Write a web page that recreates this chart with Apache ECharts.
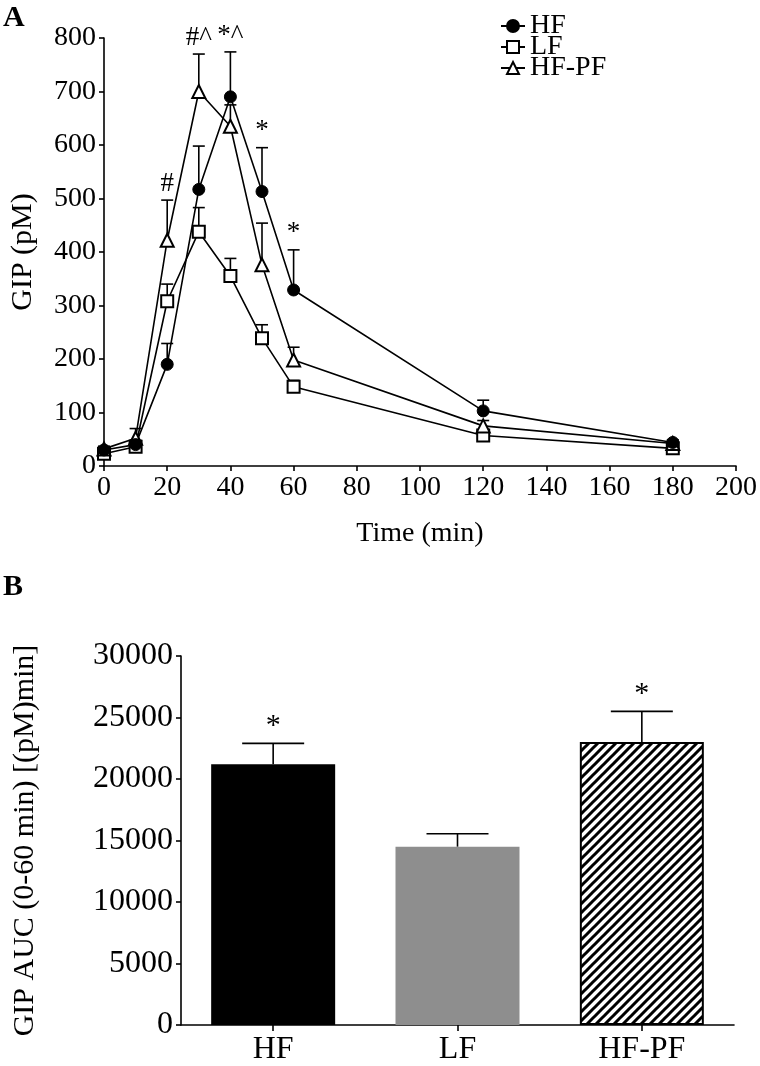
<!DOCTYPE html>
<html><head><meta charset="utf-8">
<script src="https://cdn.jsdelivr.net/npm/echarts@6/dist/echarts.min.js"></script>
<style>html,body{margin:0;padding:0;background:#fff}#c{width:760px;height:1066px}</style>
</head><body><div id="c"></div>
<script>
// ---- Panel A data: GIP (pM) vs time (min) ----
const times  = [0, 10, 20, 30, 40, 50, 60, 120, 180];
const hfMean = [30, 40, 190, 517, 690, 513, 329, 103, 44];
const hfSem  = [5, 8, 39, 81, 84, 82, 75, 20, 5];
const lfMean = [23, 36, 308, 438, 355, 239, 148, 57, 33];
const lfSem  = [4, 5, 32, 45, 33, 25, 12, 8, 4];
const pfMean = [32, 52, 422, 700, 635, 376, 198, 75, 42];
const pfSem  = [5, 18, 75, 70, 40, 78, 24, 10, 4];
const annotTimes = [20, 30, 40, 50, 60];
const annotTexts = ['#', '#^', '*^', '*', '*'];

// ---- Panel B data: GIP AUC (0-60 min) ----
const aucGroups = ['HF', 'LF', 'HF-PF'];
const aucMean = [21200, 14500, 23000];
const aucSem  = [1700, 1050, 2500];
const aucAnnot = ['*', '', '*'];

const FONT = "'Liberation Serif','Times New Roman',serif";

// hatch pattern for HF-PF bar
const pc = document.createElement('canvas');
const T = 9; pc.width = T; pc.height = T;
const g = pc.getContext('2d');
g.fillStyle = '#fff'; g.fillRect(0, 0, T, T);
g.strokeStyle = '#000'; g.lineWidth = 3; g.beginPath();
g.moveTo(-2, T + 2); g.lineTo(T + 2, -2);
g.moveTo(-2, 2); g.lineTo(2, -2);
g.moveTo(T - 2, T + 2); g.lineTo(T + 2, T - 2);
g.stroke();

const series = [];
function pairs(xs, ys) { return xs.map((x, i) => [x, ys[i]]); }
function errData(xs, m, s) { return xs.map((x, i) => [x, m[i], s[i]]); }

function errRender(halfW) {
  return function (params, api) {
    const x = api.value(0), m = api.value(1), s = api.value(2);
    const p0 = api.coord([x, m]), p1 = api.coord([x, m + s]);
    const st = { stroke: '#000', lineWidth: 1.6 };
    return { type: 'group', children: [
      { type: 'line', shape: { x1: p0[0], y1: p0[1], x2: p1[0], y2: p1[1] }, style: st },
      { type: 'line', shape: { x1: p1[0] - halfW, y1: p1[1], x2: p1[0] + halfW, y2: p1[1] }, style: st }
    ]};
  };
}
const labelsFor = { annA: annotTexts, annB: aucAnnot };
function textRender(gap, size) {
  return function (params, api) {
    const p = api.coord([api.value(0), api.value(1)]);
    return { type: 'text', x: p[0], y: p[1] - gap,
      style: { text: labelsFor[params.seriesName][params.dataIndex],
        font: size + 'px ' + FONT, fill: '#000', textAlign: 'center', textVerticalAlign: 'bottom' } };
  };
}

// error bars (panel A)
[[hfMean, hfSem], [lfMean, lfSem], [pfMean, pfSem]].forEach(([m, s]) => {
  series.push({ type: 'custom', xAxisIndex: 0, yAxisIndex: 0, z: 1, silent: true,
    renderItem: errRender(6), data: errData(times, m, s) });
});
// lines (drawn LF, HF-PF, HF so HF on top)
series.push({ name: 'LF', type: 'line', xAxisIndex: 0, yAxisIndex: 0, z: 3, data: pairs(times, lfMean),
  symbol: 'rect', symbolSize: 12, lineStyle: { color: '#000', width: 1.6 },
  itemStyle: { color: '#fff', borderColor: '#000', borderWidth: 2 } });
series.push({ name: 'HF-PF', type: 'line', xAxisIndex: 0, yAxisIndex: 0, z: 3, data: pairs(times, pfMean),
  symbol: 'triangle', symbolSize: 13, lineStyle: { color: '#000', width: 1.6 },
  itemStyle: { color: '#fff', borderColor: '#000', borderWidth: 2 } });
series.push({ name: 'HF', type: 'line', xAxisIndex: 0, yAxisIndex: 0, z: 3, data: pairs(times, hfMean),
  symbol: 'circle', symbolSize: 12, lineStyle: { color: '#000', width: 1.6 },
  itemStyle: { color: '#000', borderColor: '#000', borderWidth: 1 } });
// annotations (panel A) placed above the highest error bar at each time
const annotTop = annotTimes.map(t => {
  const i = times.indexOf(t);
  return Math.max(hfMean[i] + hfSem[i], lfMean[i] + lfSem[i], pfMean[i] + pfSem[i]);
});
series.push({ name: 'annA', type: 'custom', xAxisIndex: 0, yAxisIndex: 0, z: 4, silent: true,
  renderItem: textRender(3, 27), data: annotTimes.map((t, i) => [t, annotTop[i], i]) });

// panel B bars
const barStyles = [
  { color: '#000' },
  { color: '#8e8e8e' },
  { color: { image: pc, repeat: 'repeat' }, borderColor: '#000', borderWidth: 2 }
];
series.push({ type: 'bar', xAxisIndex: 1, yAxisIndex: 1, barWidth: 124, z: 2, silent: true,
  data: aucMean.map((v, i) => ({ value: v, itemStyle: barStyles[i] })) });
series.push({ type: 'custom', xAxisIndex: 1, yAxisIndex: 1, z: 3, silent: true,
  renderItem: errRender(31), data: aucGroups.map((c, i) => [i, aucMean[i], aucSem[i]]) });
series.push({ name: 'annB', type: 'custom', xAxisIndex: 1, yAxisIndex: 1, z: 4, silent: true,
  renderItem: textRender(2, 30), data: aucGroups.map((c, i) => [i, aucMean[i] + aucSem[i], i]) });

const axLine = { show: true, lineStyle: { color: '#000', width: 1.6 } };
const axTick = (len) => ({ show: true, length: len, lineStyle: { color: '#000', width: 1.6 } });
const plain = v => String(v);

const option = {
  animation: false,
  backgroundColor: '#fff',
  grid: [
    { left: 99, right: 21, top: 38, height: 428, containLabel: false },
    { left: 181, right: 26, top: 656, height: 369, containLabel: false }
  ],
  xAxis: [
    { type: 'value', gridIndex: 0, min: 0, max: 200, interval: 20,
      name: 'Time (min)', nameLocation: 'middle', nameGap: 54,
      nameTextStyle: { fontFamily: FONT, fontSize: 28, color: '#000' },
      axisLine: axLine, axisTick: axTick(5), splitLine: { show: false },
      axisLabel: { fontFamily: FONT, fontSize: 28, color: '#000', margin: 8, formatter: plain } },
    { type: 'category', gridIndex: 1, data: aucGroups, boundaryGap: true,
      axisLine: axLine, axisTick: Object.assign(axTick(6), { alignWithLabel: true }),
      axisLabel: { fontFamily: FONT, fontSize: 32, color: '#000', margin: 9 } }
  ],
  yAxis: [
    { type: 'value', gridIndex: 0, min: 0, max: 800, interval: 100,
      name: 'GIP (pM)', nameLocation: 'middle', nameGap: 66, nameRotate: 90,
      nameTextStyle: { fontFamily: FONT, fontSize: 30, color: '#000' },
      axisLine: axLine, axisTick: axTick(5), splitLine: { show: false },
      axisLabel: { fontFamily: FONT, fontSize: 28, color: '#000', margin: 8, formatter: plain } },
    { type: 'value', gridIndex: 1, min: 0, max: 30000, interval: 5000,
      name: 'GIP AUC (0-60 min) [(pM)min]', nameLocation: 'middle', nameGap: 141, nameRotate: 90,
      nameTextStyle: { fontFamily: FONT, fontSize: 30, color: '#000' },
      axisLine: axLine, axisTick: axTick(5), splitLine: { show: false },
      axisLabel: { fontFamily: FONT, fontSize: 32, color: '#000', margin: 8, formatter: plain } }
  ],
  legend: {
    data: ['HF', 'LF', 'HF-PF'], orient: 'vertical', left: 500, top: 12,
    itemWidth: 24, itemHeight: 15, itemGap: -7, padding: 0, selectedMode: false,
    textStyle: { fontFamily: FONT, fontSize: 28, color: '#000' }
  },
  graphic: [
    { type: 'text', left: 3, top: 3, style: { text: 'A', font: 'bold 30px ' + FONT, fill: '#000' } },
    { type: 'text', left: 3, top: 572, style: { text: 'B', font: 'bold 30px ' + FONT, fill: '#000' } }
  ],
  series: series
};
const chart = echarts.init(document.getElementById('c'), null, { renderer: 'canvas' });
chart.setOption(option);
</script></body></html>
